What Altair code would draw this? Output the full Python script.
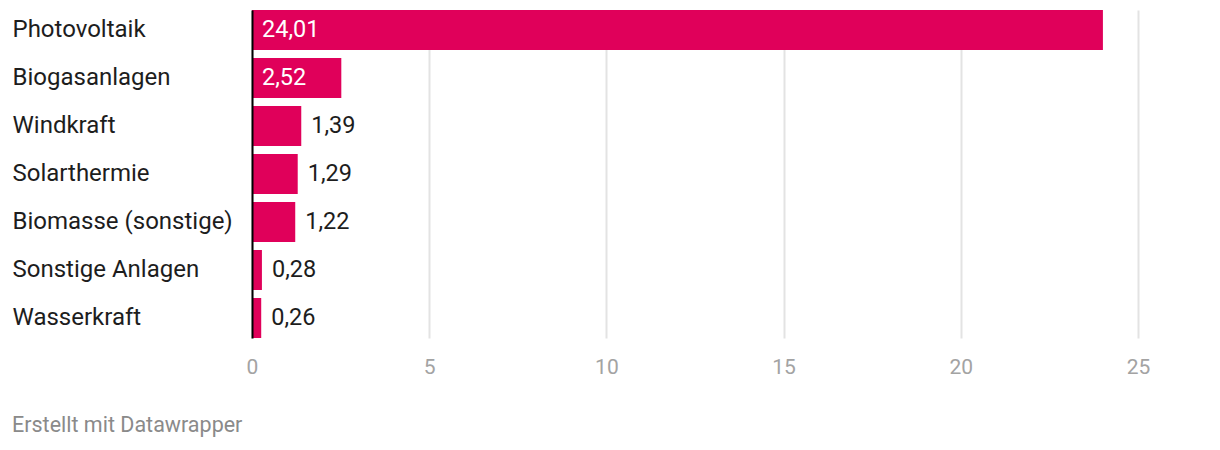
import altair as alt
import pandas as pd

categories = ["Photovoltaik", "Biogasanlagen", "Windkraft", "Solarthermie",
              "Biomasse (sonstige)", "Sonstige Anlagen", "Wasserkraft"]
values = [24.01, 2.52, 1.39, 1.29, 1.22, 0.28, 0.26]
x_ticks = [0, 5, 10, 15, 20, 25]
footer = "Erstellt mit Datawrapper"

df = pd.DataFrame({"cat": categories, "value": values})

FONT = "Roboto"
PINK = "#e0005a"

y_enc = alt.Y("cat:N", sort=categories,
              scale=alt.Scale(paddingInner=1/6, paddingOuter=0),
              axis=alt.Axis(title=None, labelAlign="left", labelPadding=240,
                            ticks=False, tickSize=0, labelFontSize=24,
                            labelColor="#1d1d1d", labelFont=FONT, labelLimit=0,
                            domain=True, domainColor="#000000", domainWidth=2,
                            grid=False, zindex=1))
x_enc = alt.X("value:Q", scale=alt.Scale(domain=[0, 25], nice=False),
              axis=alt.Axis(title=None, values=x_ticks, grid=True,
                            gridColor="#e3e3e3", gridWidth=2, domain=False,
                            ticks=False, labelFontSize=21, labelColor="#a3a3a3",
                            labelFont=FONT, labelPadding=18, labelFlush=False))

bars = alt.Chart(df).mark_bar(color=PINK).encode(x=x_enc, y=y_enc)

labels = alt.Chart(df).transform_calculate(
    lx="datum.value > 2 ? 0 : datum.value",
    txt="replace(format(datum.value, '.2f'), '.', ',')",
).mark_text(align="left", baseline="middle", dx=10, fontSize=23.5, font=FONT).encode(
    x=alt.X("lx:Q"),
    y=alt.Y("cat:N", sort=categories),
    text="txt:N",
    color=alt.condition("datum.value > 2", alt.value("#ffffff"), alt.value("#1d1d1d")),
)

foot = alt.Chart(alt.Data(values=[{"t": footer}])).mark_text(
    align="left", baseline="middle", fontSize=21.5, font=FONT, color="#8a8a8a"
).encode(x=alt.value(-240), y=alt.value(416), text="t:N")

chart = alt.layer(bars, labels, foot).properties(
    width=886, height=328,
    autosize=alt.AutoSizeParams(type="none"),
    padding={"left": 244, "top": 2, "right": 74, "bottom": 104},
).configure_view(stroke=None)

chart.save("out.html", embed_options={"renderer": "svg", "actions": False})
